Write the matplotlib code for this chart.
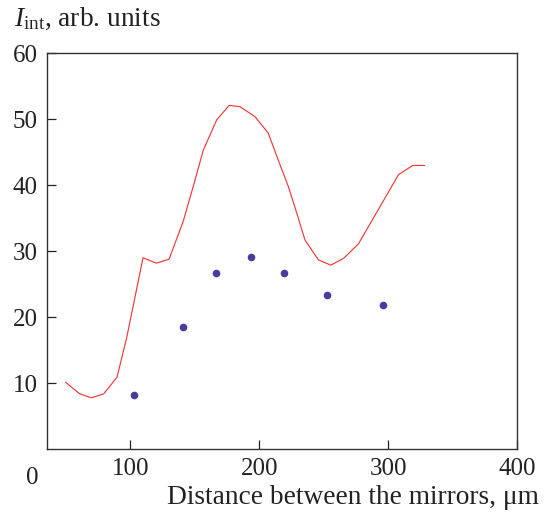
import numpy as np
import matplotlib
matplotlib.use("Agg")
import matplotlib.pyplot as plt

plt.rcParams['font.family'] = ['Liberation Serif', 'DejaVu Serif']
plt.rcParams['mathtext.fontset'] = 'custom'
plt.rcParams['mathtext.rm'] = 'Liberation Serif'
plt.rcParams['mathtext.it'] = 'Liberation Serif:italic'

# calculated integral intensity vs. mirror spacing
calc_d = [49.8, 60.7, 69.8, 79.3, 89.6, 96.9, 109.8, 120.2, 130.0, 140.9,
          148.7, 156.5, 166.9, 176.6, 185.0, 196.6, 206.9, 214.7, 222.5,
          229.0, 235.4, 245.8, 255.4, 265.2, 276.8, 293.7, 307.9, 319.0, 328.0]
calc_I = [10.15, 8.4, 7.8, 8.4, 10.9, 16.7, 29.0, 28.2, 28.8, 34.5,
          39.8, 45.3, 49.9, 52.1, 51.9, 50.4, 47.9, 43.8, 39.8,
          35.8, 31.7, 28.7, 27.9, 28.9, 31.1, 36.8, 41.6, 43.0, 43.0]

# measured points
exp_d = [102.8, 140.6, 166.5, 193.2, 219.1, 252.2, 295.9]
exp_I = [8.2, 18.5, 26.7, 29.2, 26.7, 23.3, 21.8]

fig = plt.figure(figsize=(5.44, 5.12), dpi=100)
ax = fig.add_axes([0.0868, 0.1225, 0.8640, 0.7735])

ax.plot(calc_d, calc_I, color='#f03a3a', lw=0.85)
ax.plot(exp_d, exp_I, 'o', color='#4a3c9c', ms=5.5, mec='none')

ax.set_xlim(35.5, 400)
ax.set_ylim(0, 60)
ax.set_xticks([100, 200, 300, 400])
ax.set_yticks([10, 20, 30, 40, 50, 60])
ax.tick_params(direction='in', length=6.5, width=0.9, labelsize=18, pad=6,
               colors='#222222')
ax.tick_params(axis='y', pad=7)
for s in ax.spines.values():
    s.set_linewidth(1.0)
    s.set_color('#333333')

# shared origin label
ax.text(-0.032, -0.045, '0', transform=ax.transAxes, fontsize=18,
        ha='center', va='top', color='#222222')

fig.text(0.990, 0.0155, 'Distance between the mirrors, \u03bcm', fontsize=19.7,
         ha='right', va='baseline', color='#222222')
fig.text(0.026, 0.949, r'$I_{\mathrm{int}}$, arb. units', fontsize=19.7,
         ha='left', va='baseline', color='#222222')

fig.savefig('out.png', dpi=100)
